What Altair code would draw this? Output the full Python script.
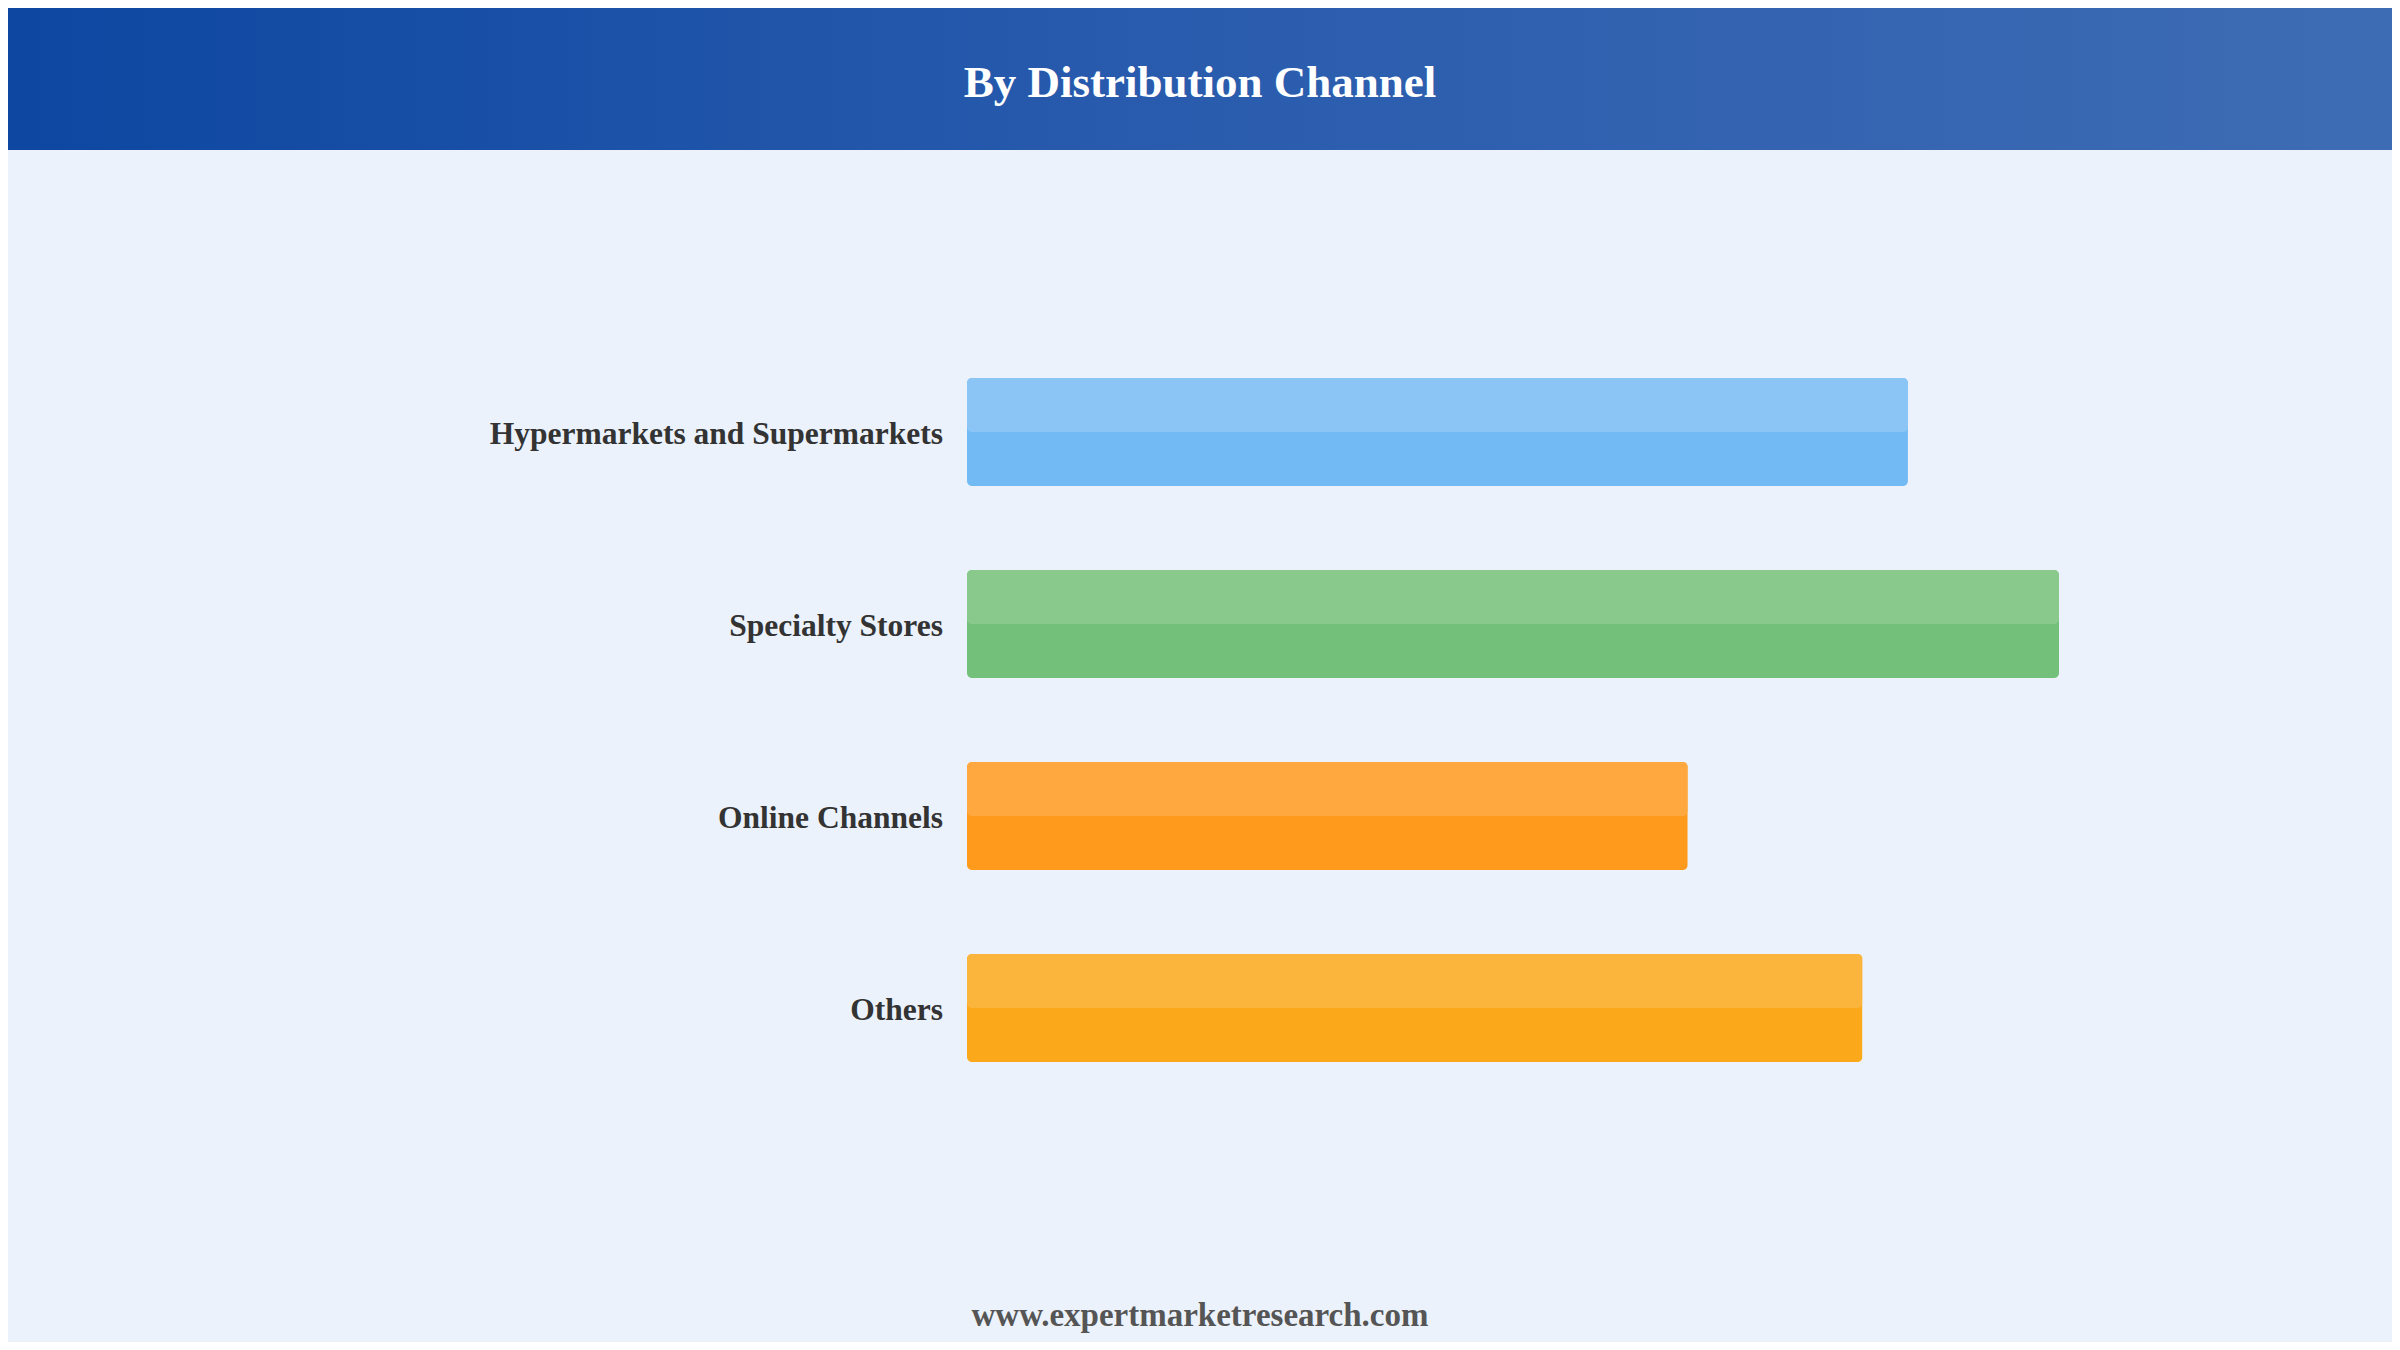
import altair as alt
import pandas as pd

categories = ["Hypermarkets and Supermarkets", "Specialty Stores", "Online Channels", "Others"]
shares = [25.85, 30.0, 19.8, 24.6]
light_colors = ["#8AC5F6", "#89CA8C", "#FFA840", "#FBB53C"]
dark_colors = ["#71BAF4", "#73C07A", "#FF9A1C", "#FBA91B"]
title_text = "By Distribution Channel"
footer_text = "www.expertmarketresearch.com"

df = pd.DataFrame({"category": categories, "share": shares})

W, H = 2384, 1334
FONT = "Liberation Serif"

xscale = alt.Scale(domain=[0, 30], range=[959, 2051], nice=False, zero=True)
yscale = alt.Scale(domain=categories, range=[328, 1096], paddingInner=0, paddingOuter=0)

base = alt.Chart(df)

header = alt.Chart(pd.DataFrame({"t": [title_text]})).mark_rect(
    color=alt.LinearGradient(
        gradient="linear",
        stops=[alt.GradientStop(color="#0D47A1", offset=0),
               alt.GradientStop(color="#2A5CAE", offset=0.5),
               alt.GradientStop(color="#3E6CB4", offset=1)],
        x1=0, x2=1, y1=0, y2=0),
).encode(x=alt.value(0), x2=alt.value(W), y=alt.value(0), y2=alt.value(142))

title = alt.Chart(pd.DataFrame({"t": [title_text]})).mark_text(
    font=FONT, fontWeight="bold", fontSize=45, color="white",
    align="center", baseline="alphabetic",
).encode(x=alt.value(1192), y=alt.value(89), text="t:N")

bars_dark = base.mark_bar(height=108, cornerRadius=5).encode(
    x=alt.X("share:Q", scale=xscale, axis=None),
    y=alt.Y("category:N", scale=yscale, axis=None, sort=categories),
    color=alt.Color("category:N", scale=alt.Scale(domain=categories, range=dark_colors), legend=None),
)

bars_light = base.mark_bar(height=54, yOffset=-27, cornerRadius=5).encode(
    x=alt.X("share:Q", scale=xscale, axis=None),
    y=alt.Y("category:N", scale=yscale, axis=None, sort=categories),
    fill=alt.Fill("category:N", scale=alt.Scale(domain=categories, range=light_colors), legend=None),
)

labels = base.mark_text(
    font=FONT, fontWeight="bold", fontSize=31.5, color="#333333",
    align="right", baseline="alphabetic", dx=-24, dy=11.5,
).encode(
    x=alt.datum(0, scale=xscale),
    y=alt.Y("category:N", scale=yscale, axis=None, sort=categories),
    text="category:N",
)

footer = alt.Chart(pd.DataFrame({"t": [footer_text]})).mark_text(
    font=FONT, fontWeight="bold", fontSize=33, color="#555555",
    align="center", baseline="alphabetic",
).encode(x=alt.value(1192), y=alt.value(1318), text="t:N")

chart = alt.layer(header, title, bars_dark, bars_light, labels, footer).properties(
    width=W, height=H,
    autosize=alt.AutoSizeParams(type="none"),
    padding=0,
    background="#EBF2FB",
).configure_view(stroke=None).resolve_scale(color="independent")

chart.save("out.html", embed_options={"renderer": "svg", "actions": False})
